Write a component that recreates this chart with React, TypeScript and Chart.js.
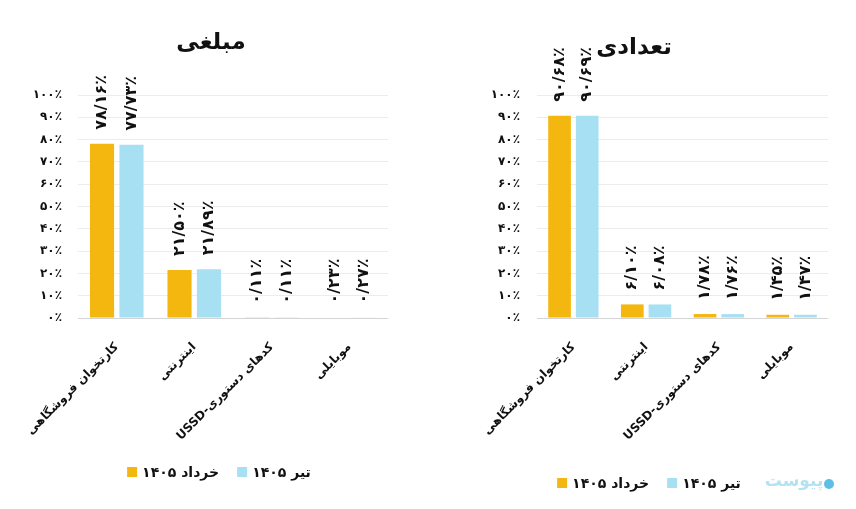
import React, { useEffect, useRef } from 'react';
import { Chart, registerables } from 'chart.js';

Chart.register(...registerables);

// ---- data ----
const categories = ['کارتخوان فروشگاهی', 'اینترنتی', 'کدهای دستوری-USSD', 'موبایلی'];
const seriesNames = ['خرداد ۱۴۰۵', 'تیر ۱۴۰۵'];
const amountKhordad = [78.16, 21.5, 0.11, 0.23];
const amountTir = [77.73, 21.89, 0.11, 0.27];
const countKhordad = [90.68, 6.1, 1.78, 1.45];
const countTir = [90.69, 6.08, 1.76, 1.47];
const yTickValues = [0, 10, 20, 30, 40, 50, 60, 70, 80, 90, 100];
const yTickLabels = ['۰٪', '۱۰٪', '۲۰٪', '۳۰٪', '۴۰٪', '۵۰٪', '۶۰٪', '۷۰٪', '۸۰٪', '۹۰٪', '۱۰۰٪'];
const panelTitles = ['مبلغی', 'تعدادی'];
const watermark = 'پیوست';

const COLORS = ['#F4B70F', '#A8E0F3'];
const FONT = "'DejaVu Sans', sans-serif";
const H = 509;

const faDigits = '۰۱۲۳۴۵۶۷۸۹';
function toFa(s: string) {
  return s.replace(/[0-9]/g, (d) => faDigits[Number(d)]);
}
function fmt(v: number) {
  return toFa(v.toFixed(2)).replace('.', '/') + '٪';
}

type PanelCfg = {
  left: number;
  width: number;
  yAxisWidth: number;
  tickPad: number;
  padRight: number;
  title: string;
  titleX: number;
  titleY: number;
  legendCx: number;
  legendY: number;
  values: number[][];
  watermark?: boolean;
};

const panels: PanelCfg[] = [
  {
    left: 0, width: 430, yAxisWidth: 78, tickPad: 16, padRight: 42,
    title: panelTitles[0], titleX: 211, titleY: 43,
    legendCx: 219, legendY: 472,
    values: [amountKhordad, amountTir],
  },
  {
    left: 430, width: 426, yAxisWidth: 107, tickPad: 17, padRight: 28,
    title: panelTitles[1], titleX: 204, titleY: 48,
    legendCx: 219, legendY: 483,
    values: [countKhordad, countTir],
    watermark: true,
  },
];

function Panel({ cfg }: { cfg: PanelCfg }) {
  const ref = useRef<HTMLCanvasElement>(null);
  useEffect(() => {
    const canvas = ref.current!;
    const decor = {
      id: 'decor',
      afterDatasetsDraw(chart: any) {
        const ctx = chart.ctx as CanvasRenderingContext2D;
        ctx.save();
        ctx.fillStyle = '#111';
        ctx.font = `bold 16px ${FONT}`;
        chart.data.datasets.forEach((ds: any, di: number) => {
          const meta = chart.getDatasetMeta(di);
          meta.data.forEach((bar: any, i: number) => {
            const label = fmt(ds.data[i]);
            ctx.save();
            ctx.translate(bar.x, bar.y - 14);
            ctx.rotate(-Math.PI / 2);
            ctx.textAlign = 'left';
            ctx.textBaseline = 'middle';
            ctx.fillText(label, 0, 0);
            ctx.restore();
          });
        });
        ctx.restore();
      },
      afterDraw(chart: any) {
        const ctx = chart.ctx as CanvasRenderingContext2D;
        ctx.save();
        // title
        ctx.fillStyle = '#111';
        ctx.font = `bold 23px ${FONT}`;
        ctx.textAlign = 'center';
        ctx.textBaseline = 'middle';
        ctx.fillText(cfg.title, cfg.titleX, cfg.titleY);
        // legend
        ctx.font = `bold 14px ${FONT}`;
        ctx.textAlign = 'left';
        const box = 10;
        const gapBoxText = 5;
        const gapItems = 18;
        const widths = chart.data.datasets.map((ds: any) => ctx.measureText(ds.label).width);
        const total = widths.reduce((a: number, w: number) => a + box + gapBoxText + w, 0) + gapItems * (widths.length - 1);
        let x = cfg.legendCx - total / 2;
        chart.data.datasets.forEach((ds: any, i: number) => {
          ctx.fillStyle = ds.backgroundColor;
          ctx.fillRect(x, cfg.legendY - box / 2, box, box);
          x += box + gapBoxText;
          ctx.fillStyle = '#111';
          ctx.fillText(ds.label, x, cfg.legendY + 1);
          x += widths[i] + gapItems;
        });
        if (cfg.watermark) {
          ctx.fillStyle = '#B5E2F2';
          ctx.font = `bold 17px ${FONT}`;
          ctx.textAlign = 'center';
          ctx.fillText(watermark, 364, 482);
          ctx.beginPath();
          ctx.arc(399, 484, 5, 0, Math.PI * 2);
          ctx.fillStyle = '#5DBFE3';
          ctx.fill();
        }
        ctx.restore();
      },
    };

    const chart = new Chart(canvas, {
      type: 'bar',
      data: {
        labels: categories,
        datasets: cfg.values.map((vals, i) => ({
          label: seriesNames[i],
          data: vals,
          backgroundColor: COLORS[i],
          borderWidth: 0,
          categoryPercentage: 0.76,
          barPercentage: 0.82,
        })),
      },
      options: {
        responsive: false,
        animation: false,
        events: [],
        layout: { padding: { top: 95, right: cfg.padRight, left: 0, bottom: 0 } },
        plugins: {
          legend: { display: false },
          title: { display: false },
          tooltip: { enabled: false },
        },
        scales: {
          x: {
            grid: { display: false },
            border: { display: false },
            ticks: {
              autoSkip: false,
              minRotation: 45,
              maxRotation: 45,
              padding: 14,
              color: '#111',
              font: { family: FONT, weight: 'bold', size: 12 },
            },
            afterFit(scale: any) {
              scale.height = 191;
            },
          },
          y: {
            min: 0,
            max: 100,
            afterBuildTicks(scale: any) {
              scale.ticks = yTickValues.map((v) => ({ value: v }));
            },
            grid: {
              drawTicks: false,
              color: (c: any) => (c.tick && c.tick.value === 0 ? '#d4d4d4' : '#ececec'),
              lineWidth: 1,
            },
            border: { display: false },
            ticks: {
              padding: cfg.tickPad,
              color: '#111',
              font: { family: FONT, weight: 'bold', size: 12 },
              callback: (v: any) => yTickLabels[yTickValues.indexOf(Number(v))],
            },
            afterFit(scale: any) {
              scale.width = cfg.yAxisWidth;
            },
          },
        },
      },
      plugins: [decor],
    } as any);
    return () => chart.destroy();
  }, []);
  return (
    <canvas
      ref={ref}
      dir="rtl"
      width={cfg.width}
      height={H}
      style={{ position: 'absolute', left: cfg.left, top: 0, width: cfg.width, height: H }}
    />
  );
}

export default function App() {
  return (
    <div style={{ position: 'fixed', left: 0, top: 0, width: 856, height: H, background: '#fff' }}>
      {panels.map((p, i) => (
        <Panel key={i} cfg={p} />
      ))}
    </div>
  );
}
